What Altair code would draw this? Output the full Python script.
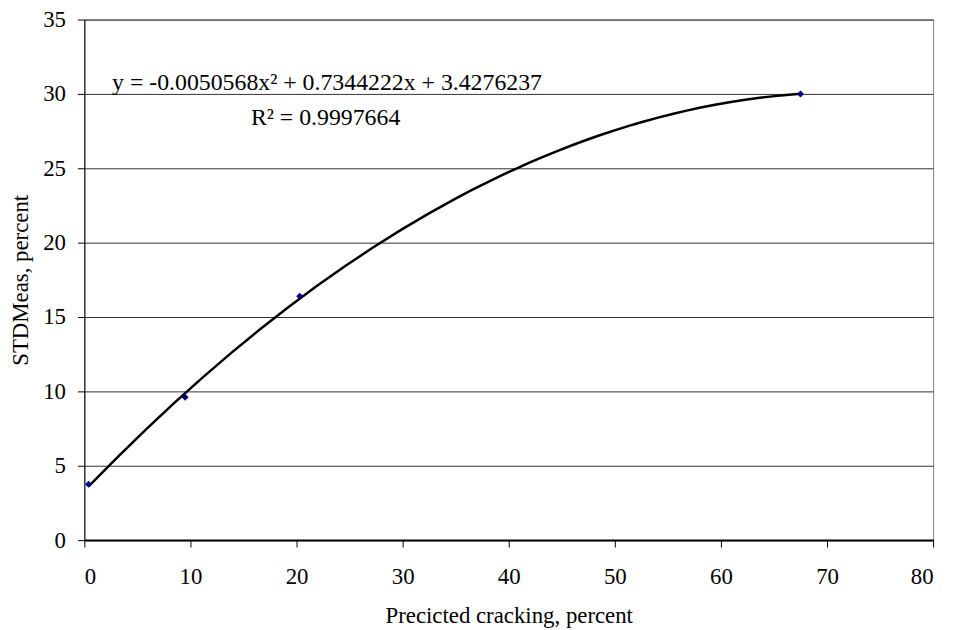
import altair as alt
import pandas as pd

# Data
predicted_cracking = [0.4, 9.5, 20.3, 67.5]
std_meas = [3.75, 9.6, 16.4, 30.0]
x_ticks = [0, 10, 20, 30, 40, 50, 60, 70, 80]
y_ticks = [0, 5, 10, 15, 20, 25, 30, 35]
equation_line = "y = -0.0050568x\u00b2 + 0.7344222x + 3.4276237"
r2_line = "R\u00b2 = 0.9997664"

df = pd.DataFrame({"x": predicted_cracking, "y": std_meas})

FONT = "Liberation Serif"
FS = 23
W, H = 856, 525

xscale = alt.Scale(domain=[0, 80], nice=False, zero=False)
yscale = alt.Scale(domain=[0, 35], nice=False, zero=False)

xaxis = alt.Axis(values=x_ticks, title="Precicted cracking, percent", grid=False,
                 tickSize=7, labelPadding=19,
                 domainWidth=2, titleY=83, titleBaseline="alphabetic")
yaxis = alt.Axis(values=y_ticks, title="STDMeas, percent", grid=True,
                 tickSize=7, labelPadding=12, titleX=-64, titleY=H / 2,
                 titleAlign="center", titleBaseline="middle", titleAngle=-90)

base = alt.Chart(df)

trend = base.transform_regression("x", "y", method="poly", order=2).mark_line(
    color="black", strokeWidth=2.5
).encode(
    x=alt.X("x:Q", scale=xscale, axis=xaxis),
    y=alt.Y("y:Q", scale=yscale, axis=yaxis),
)

pts = base.mark_point(shape="diamond", filled=True, color="#000080", size=50, opacity=1).encode(
    x=alt.X("x:Q", scale=xscale),
    y=alt.Y("y:Q", scale=yscale),
)

eq_df = pd.DataFrame({"t": [equation_line]})
r2_df = pd.DataFrame({"t": [r2_line]})
eq = alt.Chart(eq_df).mark_text(align="left", baseline="alphabetic", font=FONT,
                                fontSize=24, color="black").encode(
    text="t:N", x=alt.value(28), y=alt.value(71))
r2 = alt.Chart(r2_df).mark_text(align="left", baseline="alphabetic", font=FONT,
                                fontSize=24, color="black").encode(
    text="t:N", x=alt.value(168), y=alt.value(106))

chart = alt.layer(trend, pts, eq, r2).properties(
    width=W, height=H,
    autosize=alt.AutoSizeParams(type="none"),
    padding={"left": 77, "top": 9, "right": 14, "bottom": 88},
).configure(
    background="white"
).configure_view(
    stroke="#808080", strokeWidth=1
).configure_axis(
    labelFont=FONT, titleFont=FONT, labelFontSize=FS, titleFontSize=FS,
    labelColor="black", titleColor="black", titleFontWeight="normal",
    domainColor="black", tickColor="black", gridColor="#333333", gridWidth=1,
    gridOpacity=1,
)

chart.save("out.html", embed_options={"renderer": "svg", "actions": False})
